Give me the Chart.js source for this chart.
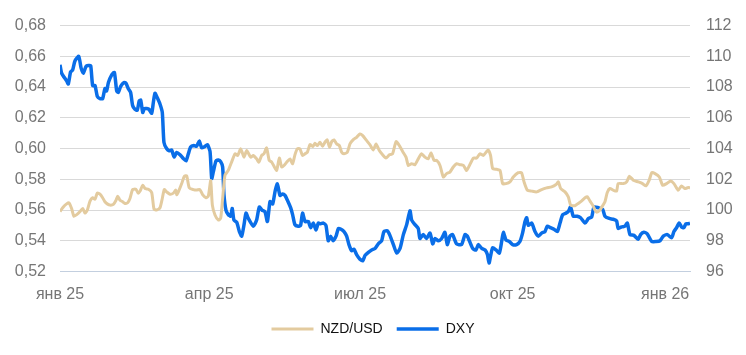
<!DOCTYPE html>
<html>
<head>
<meta charset="utf-8">
<script src="https://cdn.jsdelivr.net/npm/chart.js@4.4.1/dist/chart.umd.min.js"></script>
<style>
  body { margin: 0; background: #fff; }
</style>
</head>
<body>
<canvas id="fx-chart" width="746" height="355"></canvas>
<script>
// days since 1 Jan 2025
const tickDays = [0, 90, 181, 273, 365];
const tickLabels = ["янв 25", "апр 25", "июл 25", "окт 25", "янв 26"];

const nzdDays = [0, 2, 4, 5.4, 7, 8.4, 10.1, 12.1, 13.7, 15.1, 16.5, 18.1, 19.7, 21.1, 22.5, 24.1, 25.7, 27.1, 28.5, 30.2,
  32.2, 33.8, 34.8, 36.2, 37.8, 39.2, 40.8, 42.2, 43.8, 45.8, 47.2, 48.3, 49.9, 51.3, 53.3, 55.3, 56.7, 58.3, 60.3, 61.7,
  62.9, 64.3, 66.3, 68.4, 69.8, 70.4, 71.4, 73.4, 75, 76.4, 78, 80.4, 82.4, 84.4, 86, 88.1, 89.5, 90.9, 91.9, 93.5,
  95.5, 96.9, 98.1, 99.5, 101.5, 103.5, 105.6, 107.2, 109, 111, 112.6, 115, 116.6, 118.6, 120, 121.6, 123, 124.6, 126.2, 127.7,
  129.3, 130.7, 132.3, 133.7, 135.1, 137.1, 138.7, 140.3, 141.7, 143.1, 144.7, 146.3, 147.8, 149.2, 150.8, 152.4, 153.8, 155.2, 156.8, 158.4,
  159.8, 161.2, 162.5, 163.9, 165.3, 166.9, 168.5, 169.9, 171.3, 173.3, 174.9, 176.9, 178.9, 180.9, 182.6, 184.6, 187, 189, 190.6, 192.6,
  194.6, 196.6, 198.7, 200.6, 202.7, 204.7, 206.7, 208.7, 210.1, 212.1, 214.1, 216.1, 218.1, 220.1, 222.1, 223.8, 225.6, 227.2, 229.2, 231.2,
  233.2, 235.2, 237.2, 239.2, 241.2, 243.3, 245.3, 249.3, 251.3, 253.3, 255.3, 258.3, 259.7, 261, 263.4, 265.4, 267, 269, 271.4, 273.4,
  276.4, 278.4, 279.9, 281.9, 284.5, 287.5, 290.5, 293.5, 296.5, 299.2, 300.6, 302, 304.6, 306.6, 308, 310.6, 312.6, 314.7, 316.7, 318.1,
  319.7, 321.3, 322.7, 323.7, 325.7, 327.3, 328.7, 330.1, 331.7, 333.7, 335.7, 336.7, 339.8, 341.8, 343.4, 345.8, 348.8, 351.4, 353.4, 355.4,
  356.9, 358.9, 361.5, 363.5, 365.9, 368.3, 370.3, 372.9, 374.9, 376.9, 378.9, 380];
const nzdValues = [0.559, 0.562, 0.564, 0.5647, 0.561, 0.556, 0.557, 0.559, 0.561, 0.558, 0.560, 0.5658, 0.568, 0.567, 0.571, 0.5703, 0.568, 0.5654, 0.564, 0.5632,
  0.5637, 0.5664, 0.569, 0.5664, 0.5654, 0.5643, 0.5647, 0.5675, 0.5733, 0.5735, 0.571, 0.5723, 0.5761, 0.574, 0.5735, 0.5714, 0.5606, 0.560, 0.5615, 0.5675,
  0.5733, 0.5718, 0.5703, 0.571, 0.573, 0.570, 0.5718, 0.5772, 0.582, 0.5822, 0.5744, 0.5733, 0.573, 0.5733, 0.570, 0.568, 0.5692, 0.5791, 0.5632, 0.5568,
  0.5535, 0.5546, 0.5675, 0.5826, 0.5858, 0.5912, 0.5966, 0.5955, 0.5998, 0.5944, 0.5987, 0.5944, 0.5955, 0.5933, 0.5912, 0.5955, 0.5966, 0.6004, 0.5923, 0.5912,
  0.588, 0.5858, 0.5938, 0.588, 0.589, 0.5916, 0.5933, 0.5901, 0.5959, 0.5998, 0.5998, 0.5955, 0.5966, 0.5976, 0.6026, 0.6013, 0.6034, 0.6019, 0.6041, 0.6015,
  0.6041, 0.6056, 0.6009, 0.6045, 0.6056, 0.603, 0.6019, 0.5976, 0.5966, 0.5976, 0.603, 0.6058, 0.6073, 0.6095, 0.6084, 0.6056, 0.6024, 0.5991, 0.603, 0.5987,
  0.5959, 0.5938, 0.5959, 0.5966, 0.6045, 0.6019, 0.598, 0.5944, 0.589, 0.5901, 0.5895, 0.5933, 0.5966, 0.5944, 0.5933, 0.5972, 0.5923, 0.5923, 0.589, 0.5815,
  0.5837, 0.5847, 0.588, 0.5901, 0.5895, 0.589, 0.5858, 0.5938, 0.5938, 0.5966, 0.5955, 0.5991, 0.5955, 0.5869, 0.5865, 0.5858, 0.5772, 0.5772, 0.5783, 0.5815,
  0.5843, 0.5843, 0.5783, 0.5729, 0.5723, 0.5718, 0.5733, 0.5744, 0.5751, 0.5766, 0.5783, 0.574, 0.5718, 0.5686, 0.5632, 0.5628, 0.5643, 0.566, 0.568, 0.5686,
  0.5658, 0.5632, 0.560, 0.5585, 0.560, 0.5628, 0.5654, 0.5714, 0.574, 0.5729, 0.5723, 0.5772, 0.5772, 0.5783, 0.582, 0.5794, 0.5783, 0.5772, 0.5757, 0.5794,
  0.5843, 0.5837, 0.5815, 0.5761, 0.5772, 0.5789, 0.5772, 0.5729, 0.5757, 0.574, 0.5746, 0.5744];

const dxyDays = [0, 1, 4, 5, 6.4, 7.6, 9, 11.3, 12.7, 14.1, 15.7, 17.1, 18.5, 19.7, 21.1, 22.5, 24.1, 25.7, 27.1, 28.1,
  29.2, 31.2, 32.8, 34.2, 35.2, 36.6, 38.6, 39.8, 41.2, 42.6, 43.8, 45.2, 46.6, 47.8, 48.7, 49.9, 50.9, 52.3, 53.7, 55.3,
  56.3, 57.3, 58.7, 60.3, 61.7, 62.7, 64.3, 65.9, 67.4, 68.8, 70.4, 72.4, 74.4, 76, 77.4, 78.8, 80.8, 82.4, 84, 85.4,
  86.9, 88.9, 90.5, 91.5, 92.5, 94.1, 95.5, 96.9, 98.1, 98.9, 100.1, 101.5, 102.9, 103.9, 104.9, 106.6, 108.2, 109.6, 111, 112.2,
  113.6, 116.6, 118.6, 120.2, 121.8, 123.6, 125.1, 126.7, 128.3, 129.7, 131.1, 132.7, 134.3, 135.7, 137.1, 139.1, 140.3, 141.7, 143.7, 145.1,
  146.3, 147.8, 149.8, 151.2, 152.8, 154.4, 155.8, 157.2, 158.8, 160.4, 161.8, 163.2, 164.8, 166.5, 167.9, 169.5, 171.3, 172.9, 174.3, 175.9,
  177.3, 178.9, 180.9, 182.6, 184, 186, 188, 190, 192, 194, 195.4, 197.4, 199, 201.1, 203.1, 205.1, 207.1, 209.1, 211.1, 212.1,
  214.1, 216.1, 217.1, 219.1, 221.1, 223.2, 224.8, 226.2, 228.2, 230.2, 232.2, 233.6, 235.2, 236.8, 239.2, 242.2, 244.3, 245.7, 248.9, 250.9,
  252.3, 254.4, 256.4, 257.8, 258.8, 259.7, 261, 263, 265, 266.4, 267.4, 269, 271, 273, 275.4, 277.4, 279, 280.5, 281.5, 282.5,
  284.5, 286.5, 288.5, 290.5, 292.5, 293.9, 295.9, 298, 300, 301.6, 303.2, 305.2, 306.6, 308, 309.6, 312, 314, 316.7, 318.7, 320.7,
  322.1, 324.7, 327.3, 328.7, 331.3, 333.7, 335.7, 336.7, 338.7, 340.8, 342.2, 343.8, 346.2, 348.8, 350.2, 352.2, 354.2, 356.9, 359.5, 361.9,
  363.9, 366.3, 368.9, 370.3, 371.9, 373.5, 374.9, 376.3, 377.5, 378.9, 380];
const dxyValues = [109.45, 108.9, 108.4, 108.2, 109.0, 109.1, 109.7, 110.0, 109.25, 108.9, 109.35, 109.4, 109.4, 108.1, 108.1, 107.4, 107.25, 107.25, 107.9, 107.75,
  108.3, 108.8, 108.95, 107.75, 107.65, 108.05, 108.3, 108.25, 107.9, 107.65, 106.8, 106.55, 106.5, 107.1, 107.15, 106.35, 106.6, 106.6, 106.55, 106.3,
  107.0, 107.6, 107.3, 106.9, 106.35, 104.4, 104.0, 103.85, 103.9, 103.45, 103.75, 103.6, 103.35, 103.2, 103.65, 104.1, 104.2, 104.15, 104.5, 104.05,
  104.1, 104.25, 103.8, 102.05, 102.5, 103.2, 103.25, 103.15, 102.8, 101.0, 100.0, 99.7, 99.6, 100.1, 99.35, 99.2, 98.6, 98.3, 99.05, 99.8,
  99.45, 98.95, 99.35, 100.2, 100.0, 99.9, 99.25, 100.55, 100.4, 101.2, 101.7, 100.95, 101.05, 100.95, 100.65, 100.15, 99.7, 99.05, 98.95, 99.0,
  99.8, 99.25, 99.25, 98.85, 99.15, 98.7, 99.15, 99.1, 99.15, 99.0, 98.0, 98.3, 98.0, 98.3, 98.8, 98.75, 98.6, 98.3, 97.75, 97.35,
  97.45, 97.1, 96.8, 96.7, 97.05, 97.25, 97.4, 97.5, 97.8, 98.0, 98.6, 98.65, 98.35, 97.75, 97.2, 97.5, 98.4, 99.05, 99.95, 99.35,
  99.05, 98.8, 98.15, 98.4, 98.15, 98.5, 97.8, 98.15, 98.0, 98.15, 98.55, 97.75, 98.3, 98.4, 97.8, 97.75, 98.4, 98.3, 97.5, 97.4,
  97.75, 97.5, 97.4, 97.1, 96.55, 97.0, 97.55, 97.4, 97.2, 97.95, 98.55, 98.05, 97.95, 97.75, 97.75, 97.95, 98.5, 99.25, 99.5, 99.0,
  99.15, 98.6, 98.3, 98.5, 98.6, 98.95, 98.85, 98.75, 98.6, 99.15, 99.7, 99.8, 99.9, 100.2, 99.6, 99.6, 99.5, 99.15, 99.45, 99.55,
  100.2, 100.15, 100.05, 99.6, 99.45, 99.4, 99.3, 98.8, 98.9, 98.95, 99.15, 98.4, 98.35, 98.1, 98.4, 98.55, 98.45, 97.95, 97.95, 98.0,
  98.3, 98.4, 98.2, 98.6, 98.85, 99.15, 98.9, 98.85, 99.1, 99.1, 99.15];

function toPoints(days, values) {
  return days.map((d, i) => ({ x: d, y: values[i] }));
}

Chart.defaults.font.family = "'Liberation Sans', Arial, sans-serif";
Chart.defaults.color = "#767676";

new Chart("fx-chart", {
  type: "line",
  data: {
    datasets: [
      {
        label: "NZD/USD",
        data: toPoints(nzdDays, nzdValues),
        yAxisID: "y",
        borderColor: "#e3cb9f",
        backgroundColor: "#e3cb9f",
        borderWidth: 3,
        pointRadius: 0,
        tension: 0.2,
        fill: false,
      },
      {
        label: "DXY",
        data: toPoints(dxyDays, dxyValues),
        yAxisID: "y1",
        borderColor: "#0a6ee8",
        backgroundColor: "#0a6ee8",
        borderWidth: 3.5,
        pointRadius: 0,
        tension: 0.2,
        fill: false,
      },
    ],
  },
  options: {
    responsive: false,
    animation: false,
    devicePixelRatio: 1,
    layout: {
      padding: { left: 0, right: 0, top: 22, bottom: 9 },
    },
    plugins: {
      tooltip: { enabled: false },
      legend: {
        position: "bottom",
        labels: {
          usePointStyle: true,
          pointStyle: "line",
          pointStyleWidth: 42,
          boxHeight: 14,
          color: "#111111",
          font: { size: 14 },
          padding: 14,
        },
      },
    },
    scales: {
      x: {
        type: "linear",
        min: 0,
        max: 380,
        afterBuildTicks: function (scale) {
          scale.ticks = tickDays.map((v) => ({ value: v }));
        },
        afterFit: function (scale) {
          scale.height = 36.5;
        },
        ticks: {
          autoSkip: false,
          maxRotation: 0,
          padding: 13,
          font: { size: 16 },
          callback: function (value, index) {
            return tickLabels[index];
          },
        },
        grid: { display: false, drawTicks: false },
        border: { display: true, color: "#c3cfdf", width: 1 },
      },
      y: {
        position: "left",
        min: 0.52,
        max: 0.68,
        afterFit: function (scale) {
          scale.width = 60;
        },
        ticks: {
          stepSize: 0.02,
          padding: 14,
          font: { size: 16 },
          callback: function (value) {
            return value.toFixed(2).replace(".", ",");
          },
        },
        grid: { color: "#d9d9d9", drawTicks: false },
        border: { display: false },
      },
      y1: {
        position: "right",
        min: 96,
        max: 112,
        afterFit: function (scale) {
          scale.width = 56;
        },
        ticks: {
          stepSize: 2,
          padding: 16,
          font: { size: 16 },
        },
        grid: { display: false, drawTicks: false },
        border: { display: false },
      },
    },
  },
});
</script>
</body>
</html>
